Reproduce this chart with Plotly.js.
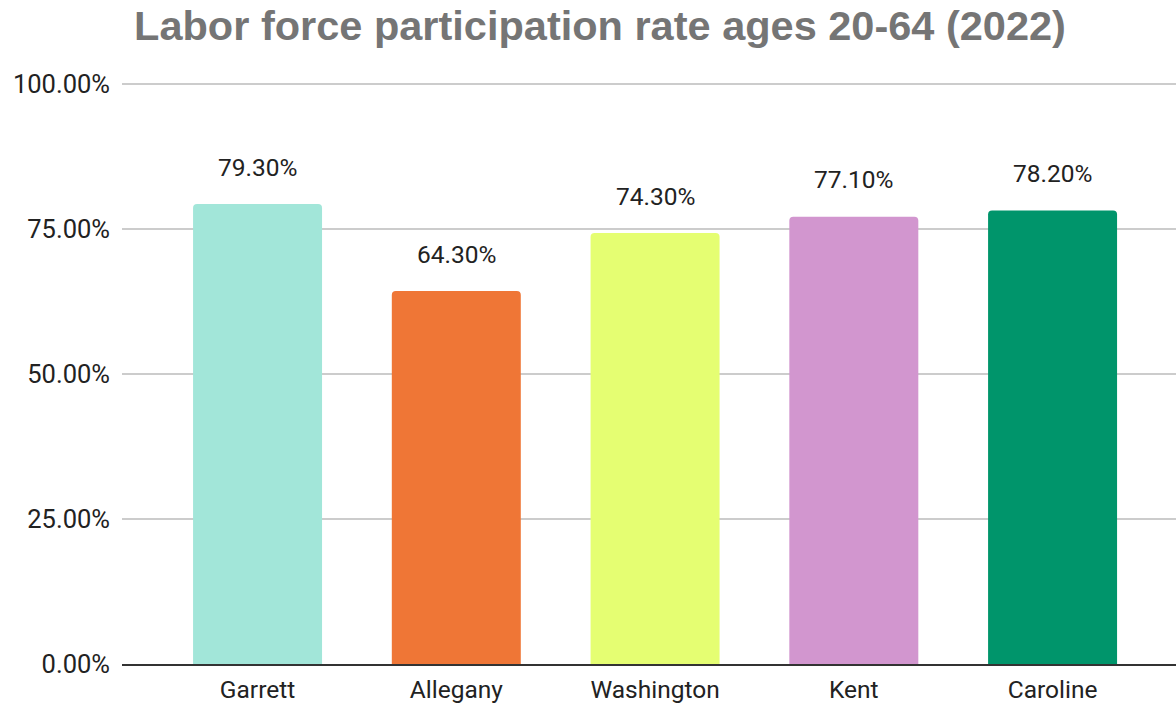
<!DOCTYPE html>
<html>
<head>
<meta charset="utf-8">
<script src="https://cdn.plot.ly/plotly-3.0.1.min.js"></script>
<style>html,body{margin:0;padding:0;background:#fff;}#chart{width:1176px;height:705px;}</style>
</head>
<body>
<div id="chart"></div>
<script>
const counties = ["Garrett", "Allegany", "Washington", "Kent", "Caroline"];
const rates = [0.793, 0.643, 0.743, 0.771, 0.782];
const barColors = ["#a2e6d9", "#ef7636", "#e5fe72", "#d296cf", "#00956b"];
const yTicks = [0, 0.25, 0.5, 0.75, 1.0];
const yTickLabels = ["0.00%", "25.00%", "50.00%", "75.00%", "100.00%"];

const trace = {
  type: "bar",
  x: counties,
  y: rates,
  marker: { color: barColors, cornerradius: 4, line: { width: 0 } },
  hoverinfo: "x+y"
};

const annotations = counties.map((c, i) => ({
  x: c,
  y: rates[i],
  xref: "x",
  yref: "y",
  text: (rates[i] * 100).toFixed(2) + "%",
  showarrow: false,
  yanchor: "middle",
  yshift: 37,
  font: { family: "Roboto, Arial, sans-serif", size: 24.5, color: "#222222" }
}));

const layout = {
  width: 1176,
  height: 705,
  margin: { l: 122, r: 0, t: 82, b: 41 },
  paper_bgcolor: "#ffffff",
  plot_bgcolor: "#ffffff",
  showlegend: false,
  bargap: 0.351,
  title: {
    text: "<b>Labor force participation rate ages 20-64 (2022)</b>",
    font: { family: "Liberation Sans, Arial, sans-serif", size: 41.5, color: "#757575" },
    xref: "container",
    x: 600 / 1176,
    xanchor: "center",
    yref: "container",
    y: 1 - 25 / 705,
    yanchor: "middle"
  },
  xaxis: {
    type: "category",
    range: [-0.682, 4.621],
    showgrid: false,
    zeroline: false,
    showline: true,
    linecolor: "#333333",
    linewidth: 2,
    layer: "above traces",
    ticks: "",
    ticklabelstandoff: 3,
    tickfont: { family: "Roboto, Arial, sans-serif", size: 24.5, color: "#222222" },
    fixedrange: true
  },
  yaxis: {
    range: [0, 1.0035],
    tickvals: yTicks,
    ticktext: yTickLabels,
    showgrid: true,
    gridcolor: "#cccccc",
    gridwidth: 1.5,
    zeroline: false,
    showline: false,
    ticks: "",
    ticklabelstandoff: 11,
    tickfont: { family: "Roboto, Arial, sans-serif", size: 25.5, color: "#222222" },
    fixedrange: true
  },
  annotations: annotations
};

Plotly.newPlot("chart", [trace], layout, { displayModeBar: false, staticPlot: true });
</script>
</body>
</html>
